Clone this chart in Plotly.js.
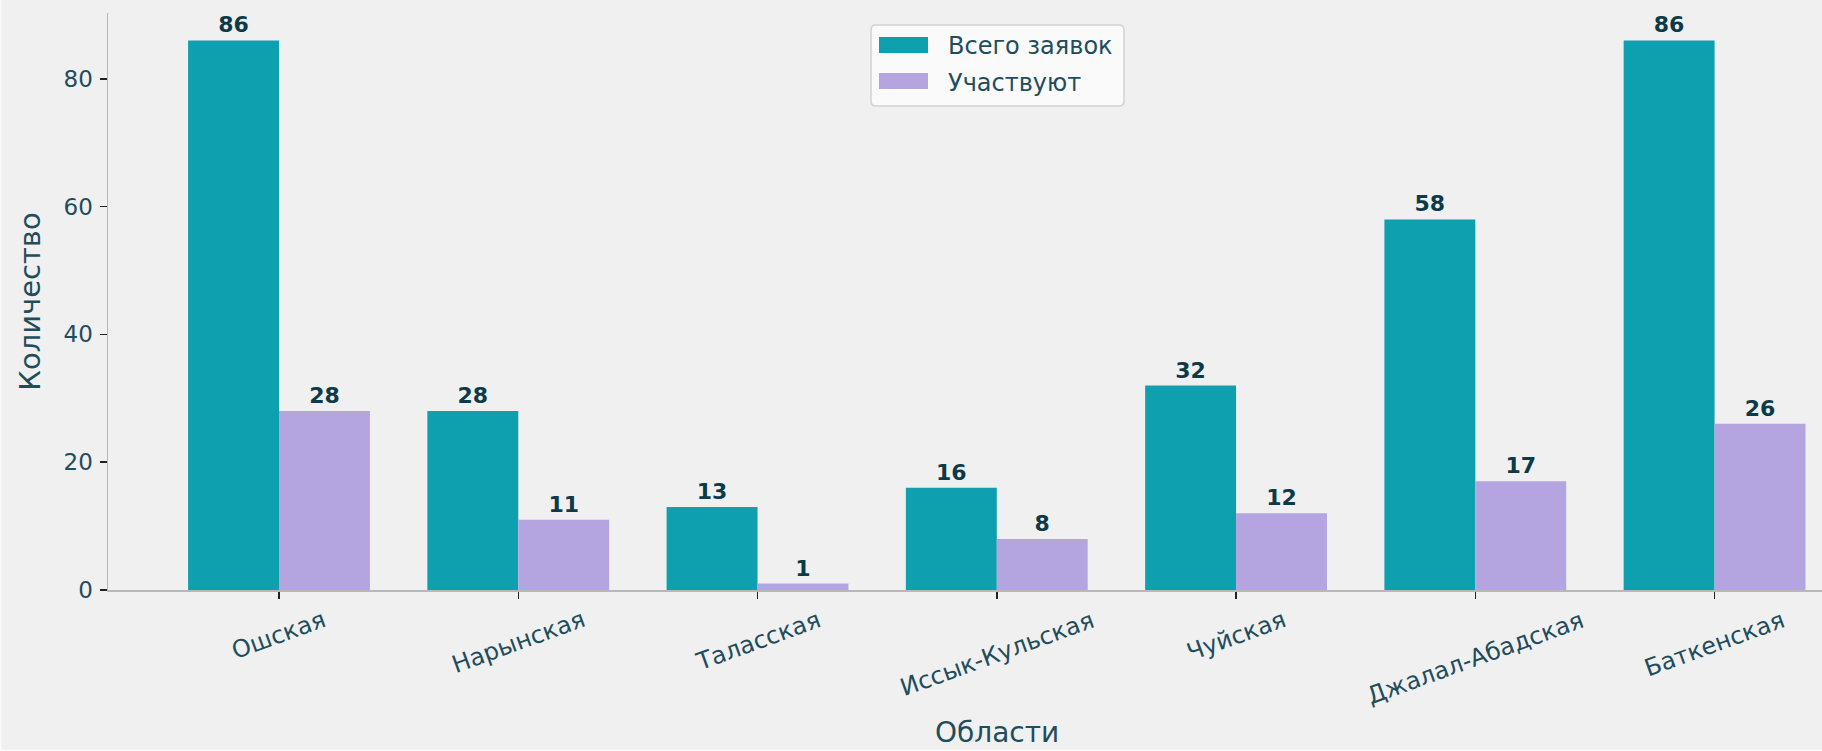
<!DOCTYPE html>
<html>
<head>
<meta charset="utf-8">
<script src="https://cdn.plot.ly/plotly-3.0.1.min.js"></script>
<style>html,body{margin:0;padding:0;background:#f0f0f0;}#chart{width:1822px;height:751px;}</style>
</head>
<body>
<div id="chart"></div>
<script>
const categories = ["Ошская", "Нарынская", "Таласская", "Иссык-Кульская", "Чуйская", "Джалал-Абадская", "Баткенская"];
const totalApplications = [86, 28, 13, 16, 32, 58, 86];
const participating = [28, 11, 1, 8, 12, 17, 26];
const seriesNames = ["Всего заявок", "Участвуют"];
const yTicks = [0, 20, 40, 60, 80];
const xTitle = "Области";
const yTitle = "Количество";

const FONT = "DejaVu Sans, Verdana, sans-serif";
const TEAL = "#0fa0b0";
const PURPLE = "#b4a5e0";
const TXT = "#1e4d5c";
const LBL = "#0d3a48";

// pixel helpers for the plot frame (margins)
const W = 1822, H = 751, ML = 108, MR = 0, MT = 13, MB = 161;
const PW = W - ML - MR, PH = H - MT - MB;
const px = v => (v - ML) / PW;          // pixel x -> paper x
const py = v => (H - MB - v) / PH;      // pixel y -> paper y

const xIdx = categories.map((c, i) => i);

const traces = [
  {
    type: "bar", name: seriesNames[0], x: xIdx, y: totalApplications, legendgroup: "a",
    marker: {color: TEAL, line: {width: 0}},
    text: totalApplications.map(String), textposition: "outside", cliponaxis: false,
    constraintext: "none",
    textfont: {family: FONT, size: 22, color: LBL, weight: "bold"},
    hoverinfo: "x+y"
  },
  {
    type: "bar", name: seriesNames[1], x: xIdx, y: participating, legendgroup: "b",
    marker: {color: PURPLE, line: {width: 0}},
    text: participating.map(String), textposition: "outside", cliponaxis: false,
    constraintext: "none",
    textfont: {family: FONT, size: 22, color: LBL, weight: "bold"},
    hoverinfo: "x+y"
  }
];

const annotations = categories.map((c, i) => ({
  x: i, xref: "x", y: 0, yref: "paper", yanchor: "top", xanchor: "center",
  yshift: -13, text: c, showarrow: false, textangle: -20,
  font: {family: FONT, size: 24, color: TXT}
}));
// x-axis title, centred on the full (cropped) axes frame
annotations.push({
  x: px(997), xref: "paper", y: py(732), yref: "paper", xanchor: "center", yanchor: "middle",
  text: xTitle, showarrow: false, font: {family: FONT, size: 28, color: TXT}
});

// legend frame and large swatches (the Plotly legend draws the text on top)
const LB = {x0: 871, x1: 1124, y0: 25, y1: 106, r: 5};
function roundRect(b) {
  const x0 = px(b.x0), x1 = px(b.x1), y0 = py(b.y0), y1 = py(b.y1);
  const rx = b.r / PW, ry = b.r / PH;
  return `M${x0 + rx},${y0} L${x1 - rx},${y0} Q${x1},${y0} ${x1},${y0 - ry} L${x1},${y1 + ry} Q${x1},${y1} ${x1 - rx},${y1} L${x0 + rx},${y1} Q${x0},${y1} ${x0},${y1 + ry} L${x0},${y0 - ry} Q${x0},${y0} ${x0 + rx},${y0} Z`;
}
const shapes = [
  {type: "path", xref: "paper", yref: "paper", path: roundRect(LB), fillcolor: "rgba(251,251,251,0.9)",
   line: {color: "#d2d2d2", width: 1.5}, layer: "above"},
  {type: "rect", xref: "paper", yref: "paper", x0: px(879), x1: px(928), y0: py(37), y1: py(53),
   fillcolor: TEAL, line: {width: 0}, layer: "above"},
  {type: "rect", xref: "paper", yref: "paper", x0: px(879), x1: px(928), y0: py(73), y1: py(89),
   fillcolor: PURPLE, line: {width: 0}, layer: "above"},
  // faint figure border (left and bottom)
  {type: "line", xref: "paper", yref: "paper", x0: px(0.5), x1: px(0.5), y0: py(0), y1: py(751),
   line: {color: "#fafafa", width: 1.5}, layer: "above"},
  {type: "line", xref: "paper", yref: "paper", x0: px(0), x1: px(1822), y0: py(750.5), y1: py(750.5),
   line: {color: "#fafafa", width: 1.5}, layer: "above"}
];

const layout = {
  width: W, height: H,
  margin: {l: ML, r: MR, t: MT, b: MB, pad: 0},
  paper_bgcolor: "#f0f0f0", plot_bgcolor: "#f0f0f0",
  font: {family: FONT, color: TXT},
  barmode: "group", bargap: 0.24, bargroupgap: 0,
  showlegend: true,
  legend: {
    x: px(871), xanchor: "left", y: py(23), yanchor: "top",
    bgcolor: "rgba(0,0,0,0)", borderwidth: 0,
    traceorder: "grouped", tracegroupgap: 2,
    font: {family: FONT, size: 24, color: TXT}, itemwidth: 67
  },
  xaxis: {
    type: "linear", range: [-0.7147, 6.449], tickvals: xIdx, ticktext: categories,
    showticklabels: false, ticks: "outside", ticklen: 7, tickwidth: 1.5, tickcolor: "#222",
    showgrid: false, zeroline: false, showline: true, linecolor: "#b8b8b8", linewidth: 1.5
  },
  yaxis: {
    range: [0, 90.3], tickvals: yTicks, ticks: "outside", ticklen: 7, tickwidth: 1.5, tickcolor: "#222",
    showgrid: false, zeroline: false, showline: true, linecolor: "#b8b8b8", linewidth: 1.5,
    ticklabelstandoff: 2,
    tickfont: {family: FONT, size: 23, color: TXT},
    title: {text: yTitle, font: {family: FONT, size: 29, color: TXT}, standoff: 14}
  },
  shapes: shapes,
  annotations: annotations
};

Plotly.newPlot("chart", traces, layout, {displayModeBar: false, staticPlot: true});
</script>
</body>
</html>
